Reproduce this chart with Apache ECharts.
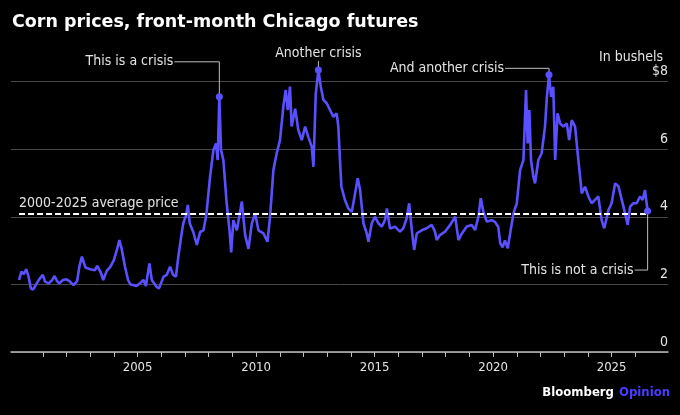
<!DOCTYPE html>
<html><head><meta charset="utf-8">
<script src="https://cdn.jsdelivr.net/npm/echarts@6/dist/echarts.min.js"></script>
<style>html,body{margin:0;padding:0;background:#000;}#c{width:680px;height:415px;}</style>
</head><body><div id="c"></div>
<script>
// ---- data (decimal years, $ per bushel) ----
const dates = [
 2000.00,2000.10,2000.20,2000.30,2000.40,2000.50,2000.60,2000.70,2000.85,
 2001.00,2001.10,2001.25,2001.40,2001.50,2001.60,2001.70,2001.85,
 2002.00,2002.15,2002.30,2002.45,2002.55,2002.65,2002.80,
 2003.00,2003.20,2003.30,2003.45,2003.55,2003.70,2003.85,
 2004.00,2004.15,2004.23,2004.33,2004.47,2004.60,2004.70,2004.82,2004.95,
 2005.10,2005.25,2005.35,2005.50,2005.60,2005.80,2005.90,
 2006.10,2006.23,2006.37,2006.50,2006.62,2006.72,2006.86,2006.93,
 2007.05,2007.12,2007.20,2007.35,2007.50,2007.64,2007.78,2007.90,
 2008.06,2008.20,2008.31,2008.38,2008.45,2008.52,2008.62,2008.76,2008.88,2008.95,
 2009.04,2009.19,2009.40,2009.54,2009.68,2009.82,2009.96,
 2010.10,2010.31,2010.48,2010.59,2010.73,2010.87,
 2011.01,2011.15,2011.25,2011.34,2011.43,2011.50,2011.65,2011.78,2011.93,
 2012.07,2012.20,2012.35,2012.42,2012.52,2012.63,2012.73,2012.84,2012.98,
 2013.12,2013.26,2013.40,2013.47,2013.54,2013.60,2013.75,2013.89,
 2014.04,2014.18,2014.29,2014.39,2014.53,2014.67,2014.74,2014.88,
 2015.02,2015.16,2015.30,2015.44,2015.52,2015.65,2015.86,
 2016.07,2016.21,2016.35,2016.46,2016.57,2016.67,2016.78,2016.99,
 2017.20,2017.41,2017.55,2017.62,2017.76,2017.97,
 2018.19,2018.40,2018.54,2018.68,2018.89,
 2019.10,2019.24,2019.38,2019.48,2019.59,2019.73,2019.94,
 2020.08,2020.22,2020.30,2020.40,2020.50,2020.62,2020.72,2020.86,
 2021.00,2021.14,2021.28,2021.39,2021.46,2021.53,2021.60,2021.70,2021.77,2021.91,
 2022.05,2022.19,2022.27,2022.36,2022.45,2022.54,2022.62,2022.72,2022.83,2022.97,
 2023.11,2023.21,2023.32,2023.46,2023.57,2023.67,2023.74,2023.88,
 2024.02,2024.16,2024.30,2024.44,2024.58,2024.69,2024.87,
 2025.00,2025.15,2025.29,2025.43,2025.57,2025.68,2025.78,2025.92,
 2026.06,2026.20,2026.31,2026.41,2026.52
];
const prices = [
 2.13,2.38,2.30,2.45,2.23,1.88,1.85,1.98,2.15,
 2.28,2.08,2.03,2.13,2.25,2.10,2.03,2.13,
 2.15,2.08,1.98,2.10,2.55,2.82,2.50,
 2.45,2.42,2.55,2.35,2.13,2.40,2.52,
 2.72,3.07,3.31,3.05,2.52,2.13,2.00,1.98,1.95,
 2.03,2.13,1.95,2.62,2.13,1.93,1.88,
 2.23,2.28,2.52,2.28,2.23,2.82,3.51,3.81,
 4.05,4.35,3.81,3.55,3.17,3.55,3.60,4.05,
 5.19,5.98,6.17,5.68,7.55,5.98,5.68,4.40,3.60,2.95,
 3.90,3.60,4.45,3.45,3.05,3.80,4.10,
 3.60,3.51,3.26,4.00,5.38,5.88,
 6.27,7.26,7.75,7.16,7.85,6.67,7.20,6.57,6.27,
 6.67,6.37,6.07,5.48,7.65,8.34,7.85,7.46,7.36,
 7.16,6.96,7.06,6.67,5.68,4.89,4.50,4.25,
 4.15,4.70,5.14,4.79,3.81,3.51,3.26,3.81,
 4.00,3.81,3.71,3.90,4.25,3.65,3.71,
 3.56,3.66,3.95,4.40,3.61,3.02,3.51,3.60,
 3.66,3.76,3.56,3.31,3.46,3.56,
 3.76,4.00,3.31,3.50,3.71,
 3.76,3.61,4.00,4.55,4.15,3.86,3.90,
 3.85,3.70,3.22,3.10,3.30,3.07,3.51,4.10,
 4.40,5.38,5.68,7.75,6.17,7.16,5.68,5.19,4.99,5.68,
 5.88,6.67,7.55,8.20,7.55,7.85,5.68,7.06,6.76,6.67,
 6.76,6.27,6.86,6.67,5.88,5.19,4.69,4.89,
 4.60,4.40,4.50,4.60,3.90,3.66,4.20,
 4.40,4.99,4.90,4.50,4.10,3.76,4.30,4.40,
 4.40,4.60,4.50,4.79,4.17
];
const avgPrice = 4.09;
const avgLabel = '2000-2025 average price';
const yTickValues = [0, 2, 4, 6, 8];
const yearTicks = [2001,2002,2003,2004,2005,2006,2007,2008,2009,2010,2011,2012,2013,2014,2015,2016,2017,2018,2019,2020,2021,2022,2023,2024,2025,2026];
const yearLabels = [2005, 2010, 2015, 2020, 2025];
const annDates = [2008.45, 2012.63, 2022.36, 2026.52];
const annTexts = ['This is a crisis', 'Another crisis', 'And another crisis', 'This is not a crisis'];

// ---- styling ----
const FONT = "'DejaVu Sans Condensed','DejaVu Sans',sans-serif";
const TITLE_FONT = "'DejaVu Sans',sans-serif";
const LINE = '#5a50ff';
const TXT = '#e4e4e4';
const annLayout = [
  {dx: -45, dy: -35, align: 'right'},
  {dx: 0, dy: -9, align: 'center'},
  {dx: -44, dy: -6.5, align: 'right'},
  {dx: -13, dy: 59, align: 'right'}
];

const series = dates.map((d, i) => [d, prices[i]]);
const annData = annDates.map(d => [d, prices[dates.indexOf(d)]]);

const chart = echarts.init(document.getElementById('c'), null, {renderer: 'canvas'});
chart.setOption({
  backgroundColor: '#000',
  animation: false,
  title: [
    {text: 'Corn prices, front-month Chicago futures', left: 7, top: 8,
     textStyle: {color: '#fff', fontSize: 17.5, fontWeight: 'bold', fontFamily: TITLE_FONT}},
    {text: 'In bushels', right: 12, top: 45,
     textStyle: {color: TXT, fontSize: 14, fontWeight: 'normal', fontFamily: FONT}},
    {text: '{a|Bloomberg} {b|Opinion}', right: 5, bottom: 8,
     textStyle: {rich: {
       a: {color: '#fff', fontSize: 13, fontWeight: 'bold', fontFamily: FONT},
       b: {color: '#4b3dff', fontSize: 13, fontWeight: 'bold', fontFamily: FONT}}}}
  ],
  grid: {left: 11, right: 12, top: 81.6, bottom: 63, containLabel: false, outerBoundsMode: 'none'},
  xAxis: {
    type: 'value', min: 1999.66, max: 2027.38,
    axisLine: {show: true, onZero: false, lineStyle: {color: '#bdbdbd', width: 1.5}},
    axisTick: {show: true, customValues: yearTicks, length: 5, lineStyle: {color: '#bdbdbd', width: 1}},
    axisLabel: {customValues: yearLabels, color: TXT, fontSize: 13, fontFamily: FONT, margin: 9,
                formatter: v => String(v)},
    splitLine: {show: false}
  },
  yAxis: {
    type: 'value', position: 'right', min: 0, max: 8, interval: 2,
    axisLine: {show: false}, axisTick: {show: false},
    splitLine: {show: true, lineStyle: {color: '#474747', width: 1}},
    axisLabel: {inside: true, align: 'right', verticalAlign: 'bottom', margin: 0,
                padding: [0, 0, 3, 0], color: TXT, fontSize: 14, fontFamily: FONT,
                formatter: v => (v === yTickValues[yTickValues.length - 1] ? '$' + v : String(v))}
  },
  series: [
    {
      type: 'line', data: series, symbol: 'none', clip: false, z: 2,
      lineStyle: {color: LINE, width: 2.6},
      markLine: {
        silent: true, symbol: 'none', z: 5,
        lineStyle: {type: [6, 3], color: '#fff', width: 2},
        label: {show: true, position: 'insideStartTop', formatter: avgLabel, color: TXT,
                fontSize: 14, fontFamily: FONT, distance: [0, 3]},
        data: [[{coord: [dates[0], avgPrice]}, {coord: [dates[dates.length - 1], avgPrice]}]]
      }
    },
    {
      type: 'custom', data: annData, clip: false, z: 6,
      renderItem: function (params, api) {
        const i = params.dataIndex;
        const p = api.coord([api.value(0), api.value(1)]);
        const L = annLayout[i];
        const ey = p[1] + L.dy, ex = p[0] + L.dx;
        const pts = L.dx === 0 ? [[p[0], p[1]], [p[0], ey]] : [[p[0], p[1]], [p[0], ey], [ex, ey]];
        return {
          type: 'group',
          children: [
            {type: 'polyline', shape: {points: pts}, style: {stroke: '#bcbcbc', lineWidth: 1, fill: null}},
            {type: 'circle', shape: {cx: p[0], cy: p[1], r: 3.5}, style: {fill: LINE}},
            {type: 'text', x: L.dx === 0 ? p[0] : ex - 1, y: L.dx === 0 ? ey - 1 : ey,
             style: {text: annTexts[i], fill: TXT, font: '14px ' + FONT,
                     align: L.align, verticalAlign: L.dx === 0 ? 'bottom' : 'middle'}}
          ]
        };
      }
    }
  ]
});
</script>
</body></html>
